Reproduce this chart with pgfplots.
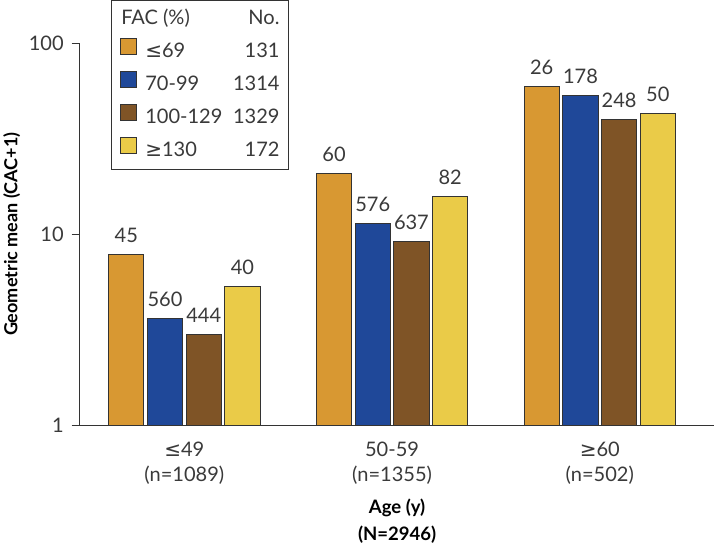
\documentclass[border=0pt]{standalone}
\usepackage{pgfplots}
\pgfplotsset{compat=1.18}
\usepackage{pgfplotstable}
\usepackage{fontspec}
\setmainfont{Lato}
\newfontfamily\symf{DejaVu Sans}
\definecolor{cOr}{HTML}{D89832}
\definecolor{cBl}{HTML}{1F4899}
\definecolor{cBr}{HTML}{7F5426}
\definecolor{cYe}{HTML}{EACB48}
\definecolor{txt}{HTML}{3A3A3A}
\definecolor{edge}{HTML}{333333}

\pgfplotstableread{
x y n
0 7.86 45
1 20.7 60
2 59.3 26
}\tA
\pgfplotstableread{
x y n
0 3.63 560
1 11.4 576
2 53.0 178
}\tB
\pgfplotstableread{
x y n
0 2.99 444
1 9.16 637
2 39.7 248
}\tC
\pgfplotstableread{
x y n
0 5.34 40
1 15.7 82
2 43.0 50
}\tD

\begin{document}
\begin{tikzpicture}
\begin{axis}[
  scale only axis, width=634pt, height=382pt,
  ymode=log, ymin=1, ymax=100,
  xmin=-0.5036, xmax=2.552,
  axis x line=bottom, axis y line=left,
  axis line style={-, edge, line width=1.1pt},
  ytick={1,10,100}, yticklabels={1,10,100}, yminorticks=false,
  tick align=outside, major tick length=8pt,
  ytick style={edge, line width=1.1pt},
  xtick={0,1,2},
  xticklabels={{\symf ≤}49\\(n=1089), 50-59\\(n=1355), {\symf ≥}60\\(n=502)},
  xtick style={draw=none},
  xticklabel style={align=center, font=\fontsize{20}{25}\selectfont, text=txt, yshift=-5pt},
  yticklabel style={font=\fontsize{20}{22}\selectfont, text=txt, xshift=-4.5pt},
  /pgf/number format/assume math mode=true,
  ylabel={Geometric mean (CAC+1)},
  ylabel style={at={(axis description cs:-0.107,0.5)}, anchor=center, font=\bfseries\fontsize{18}{22}\selectfont},
  xlabel={Age (y)\\(N=2946)},
  xlabel style={at={(axis description cs:0.5,-0.25)}, anchor=center, align=center, font=\bfseries\fontsize{18.5}{27}\selectfont},
  ybar=3.6pt,
  bar width=0.169,
  nodes near coords,
  point meta=explicit symbolic,
  every node near coord/.append style={font=\fontsize{20}{22}\selectfont, text=txt, anchor=south, yshift=8pt},
  legend style={at={(axis description cs:0.049,1.1126)}, anchor=north west,
    draw=edge, line width=1.1pt, fill=white, inner xsep=9pt, inner ysep=10pt,
    font=\fontsize{20}{22}\selectfont, text=txt, row sep=10pt,
    nodes={inner sep=0pt, text height=14pt, text depth=3pt}},
  legend cell align=left,
  legend image code/.code={\draw[#1, line width=0.9pt] (0pt,-2pt) rectangle (16pt,14pt); \path (24pt,0pt);},
]
\addlegendimage{empty legend}
\addlegendentry{\hspace*{-24pt}\makebox[158pt]{FAC (\%)\hfill No.}}
\addplot[fill=cOr, draw=edge, line width=0.9pt] table[x=x, y=y, meta=n] {\tA};
\addlegendentry{\makebox[134pt]{{\symf ≤}69\hfill 131}}
\addplot[fill=cBl, draw=edge, line width=0.9pt] table[x=x, y=y, meta=n] {\tB};
\addlegendentry{\makebox[134pt]{70-99\hfill 1314}}
\addplot[fill=cBr, draw=edge, line width=0.9pt] table[x=x, y=y, meta=n] {\tC};
\addlegendentry{\makebox[134pt]{100-129\hfill 1329}}
\addplot[fill=cYe, draw=edge, line width=0.9pt] table[x=x, y=y, meta=n] {\tD};
\addlegendentry{\makebox[134pt]{{\symf ≥}130\hfill 172}}
\end{axis}
\end{tikzpicture}
\end{document}
